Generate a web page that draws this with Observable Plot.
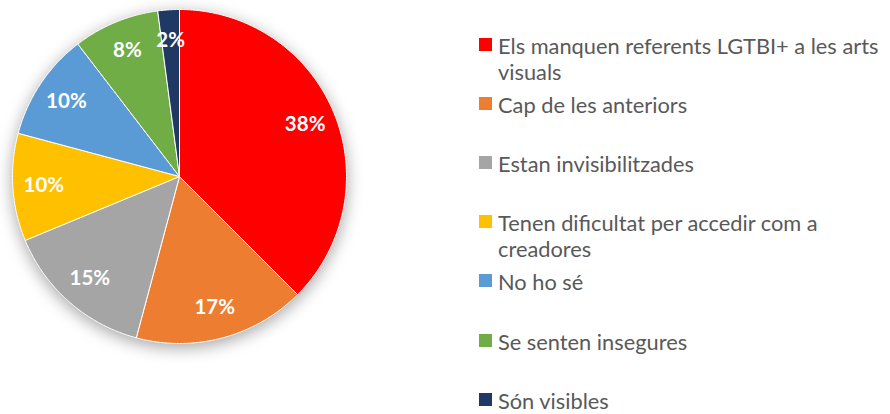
<!DOCTYPE html>
<html>
<head>
<meta charset="utf-8">
<script src="https://cdn.jsdelivr.net/npm/d3@7"></script>
<script src="https://cdn.jsdelivr.net/npm/@observablehq/plot@0.6"></script>
<style>
  html, body { margin: 0; padding: 0; background: #fff; }
  #wrap { position: relative; width: 890px; height: 414px; overflow: hidden; font-family: Lato, "Open Sans", sans-serif; }
  #pie { position: absolute; left: 0; top: 0; }
  #pie svg { overflow: visible; }
  .slices { filter: drop-shadow(0px 4px 8px rgba(0,0,0,0.35)); }
  .legend-item { position: absolute; left: 479px; width: 411px; }
  .legend-item .sw { position: absolute; left: 0; top: 5px; width: 13px; height: 13px; }
  .legend-item .lb { position: absolute; left: 19px; top: 0; width: 392px; font-size: 21.8px; line-height: 25.5px; color: #595959; }
</style>
</head>
<body>
<div id="wrap">
  <div id="pie"></div>
  <div id="legend"></div>
</div>
<script>
const categories = [
  "Els manquen referents LGTBI+ a les arts visuals",
  "Cap de les anteriors",
  "Estan invisibilitzades",
  "Tenen dificultat per accedir com a creadores",
  "No ho sé",
  "Se senten insegures",
  "Són visibles"
];
const counts = [18, 8, 7, 5, 5, 4, 1];
const colors = ["#FF0000", "#ED7D31", "#A5A5A5", "#FFC000", "#5B9BD5", "#70AD47", "#203864"];

const total = d3.sum(counts);
const R = 167;
const labelR = 136;
let cum = 0;
const slices = counts.map((v, i) => {
  const a0 = cum / total * 2 * Math.PI;
  cum += v;
  const a1 = cum / total * 2 * Math.PI;
  return {cat: categories[i], v, a0, a1, pct: Math.round(v / total * 100) + "%"};
});

const pts = [];
slices.forEach(s => {
  pts.push({cat: s.cat, x: 0, y: 0});
  const n = Math.max(2, Math.ceil((s.a1 - s.a0) / (Math.PI / 360)));
  for (let k = 0; k <= n; k++) {
    const a = s.a0 + (s.a1 - s.a0) * k / n;
    pts.push({cat: s.cat, x: R * Math.sin(a), y: R * Math.cos(a)});
  }
  pts.push({cat: s.cat, x: 0, y: 0});
});

const labels = slices.map(s => {
  const m = (s.a0 + s.a1) / 2;
  return {x: labelR * Math.sin(m), y: labelR * Math.cos(m), text: s.pct};
});

const chart = Plot.plot({
  width: 360,
  height: 414,
  margin: 0,
  x: {domain: [-179, 181], axis: null},
  y: {domain: [-238, 176], axis: null},
  color: {domain: categories, range: colors},
  marks: [
    Plot.line(pts, {x: "x", y: "y", z: "cat", fill: "cat", stroke: "white", strokeWidth: 1, strokeLinejoin: "round", className: "slices"}),
    Plot.text(labels, {x: "x", y: "y", text: "text", fill: "white", fontWeight: "bold", fontSize: 20.5, fontFamily: "Lato, 'Open Sans', sans-serif"})
  ]
});
document.getElementById("pie").appendChild(chart);

const legend = document.getElementById("legend");
categories.forEach((c, i) => {
  const item = document.createElement("div");
  item.className = "legend-item";
  item.style.top = (33 + i * 59.1) + "px";
  const sw = document.createElement("div");
  sw.className = "sw";
  sw.style.background = colors[i];
  const lb = document.createElement("div");
  lb.className = "lb";
  lb.textContent = c;
  item.appendChild(sw);
  item.appendChild(lb);
  legend.appendChild(item);
});
</script>
</body>
</html>
